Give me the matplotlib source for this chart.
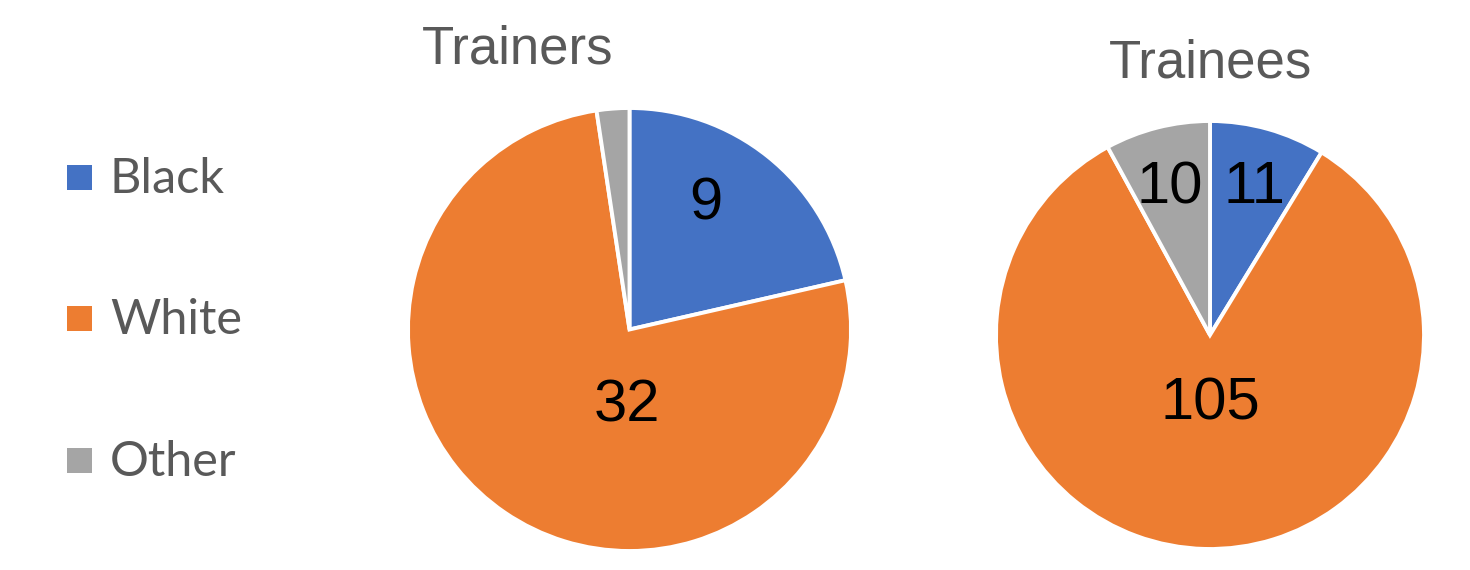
import matplotlib
matplotlib.use("Agg")
import matplotlib.pyplot as plt
from matplotlib.patches import Rectangle

# data
categories = ["Black", "White", "Other"]
trainers = [9, 32, 1]
trainees = [11, 105, 10]
colors = ["#4472C4", "#ED7D31", "#A5A5A5"]

W, H = 1470, 570
fig = plt.figure(figsize=(W / 100, H / 100), dpi=100)
fig.patch.set_facecolor("white")

LABEL_FONT = ["Liberation Sans", "DejaVu Sans"]
LEGEND_FONT = ["Lato", "DejaVu Sans"]
GREY_TXT = "#595959"


def pie_axes(cx, cy, r):
    # pixel centre / radius -> figure axes
    ax = fig.add_axes([(cx - r) / W, (H - cy - r) / H, 2 * r / W, 2 * r / H])
    ax.set_xlim(-1, 1)
    ax.set_ylim(-1, 1)
    ax.set_aspect("equal")
    ax.axis("off")
    return ax


def draw_pie(ax, values, label_pos, show):
    wedges, _ = ax.pie(values, colors=colors, startangle=90, counterclock=False,
                       radius=1.0, wedgeprops=dict(edgecolor="white", linewidth=2.8))
    ax.set_xlim(-1, 1)
    ax.set_ylim(-1, 1)
    for v, pos, s in zip(values, label_pos, show):
        if s:
            ax.text(pos[0], pos[1], str(v), ha="center", va="center_baseline",
                    fontsize=43, family=LABEL_FONT, color="black")


# Trainers
ax1 = pie_axes(629.5, 329.5, 221.5)
draw_pie(ax1, trainers, [(0.345, 0.594), (-0.01, -0.318), (0, 0)], [True, True, False])
fig.text(517.5 / W, 1 - 63 / H, "Trainers", ha="center", va="baseline",
         fontsize=38, family=LABEL_FONT, color=GREY_TXT)

# Trainees
ax2 = pie_axes(1210, 335, 214)
draw_pie(ax2, trainees, [(0.206, 0.715), (0.0, -0.294), (-0.187, 0.715)], [True, True, True])
fig.text(1210 / W, 1 - 78 / H, "Trainees", ha="center", va="baseline",
         fontsize=38, family=LABEL_FONT, color=GREY_TXT)

# legend
leg_y = [177, 318, 460]
for name, c, y in zip(categories, colors, leg_y):
    fig.patches.append(Rectangle((67 / W, 1 - (y + 12.5) / H), 25 / W, 25 / H,
                                 transform=fig.transFigure, facecolor=c, edgecolor="none"))
    fig.text(110 / W, 1 - (y + 2) / H, name, ha="left", va="center",
             fontsize=35, family=LEGEND_FONT, color=GREY_TXT)

fig.savefig("out.png", dpi=100, facecolor="white")
